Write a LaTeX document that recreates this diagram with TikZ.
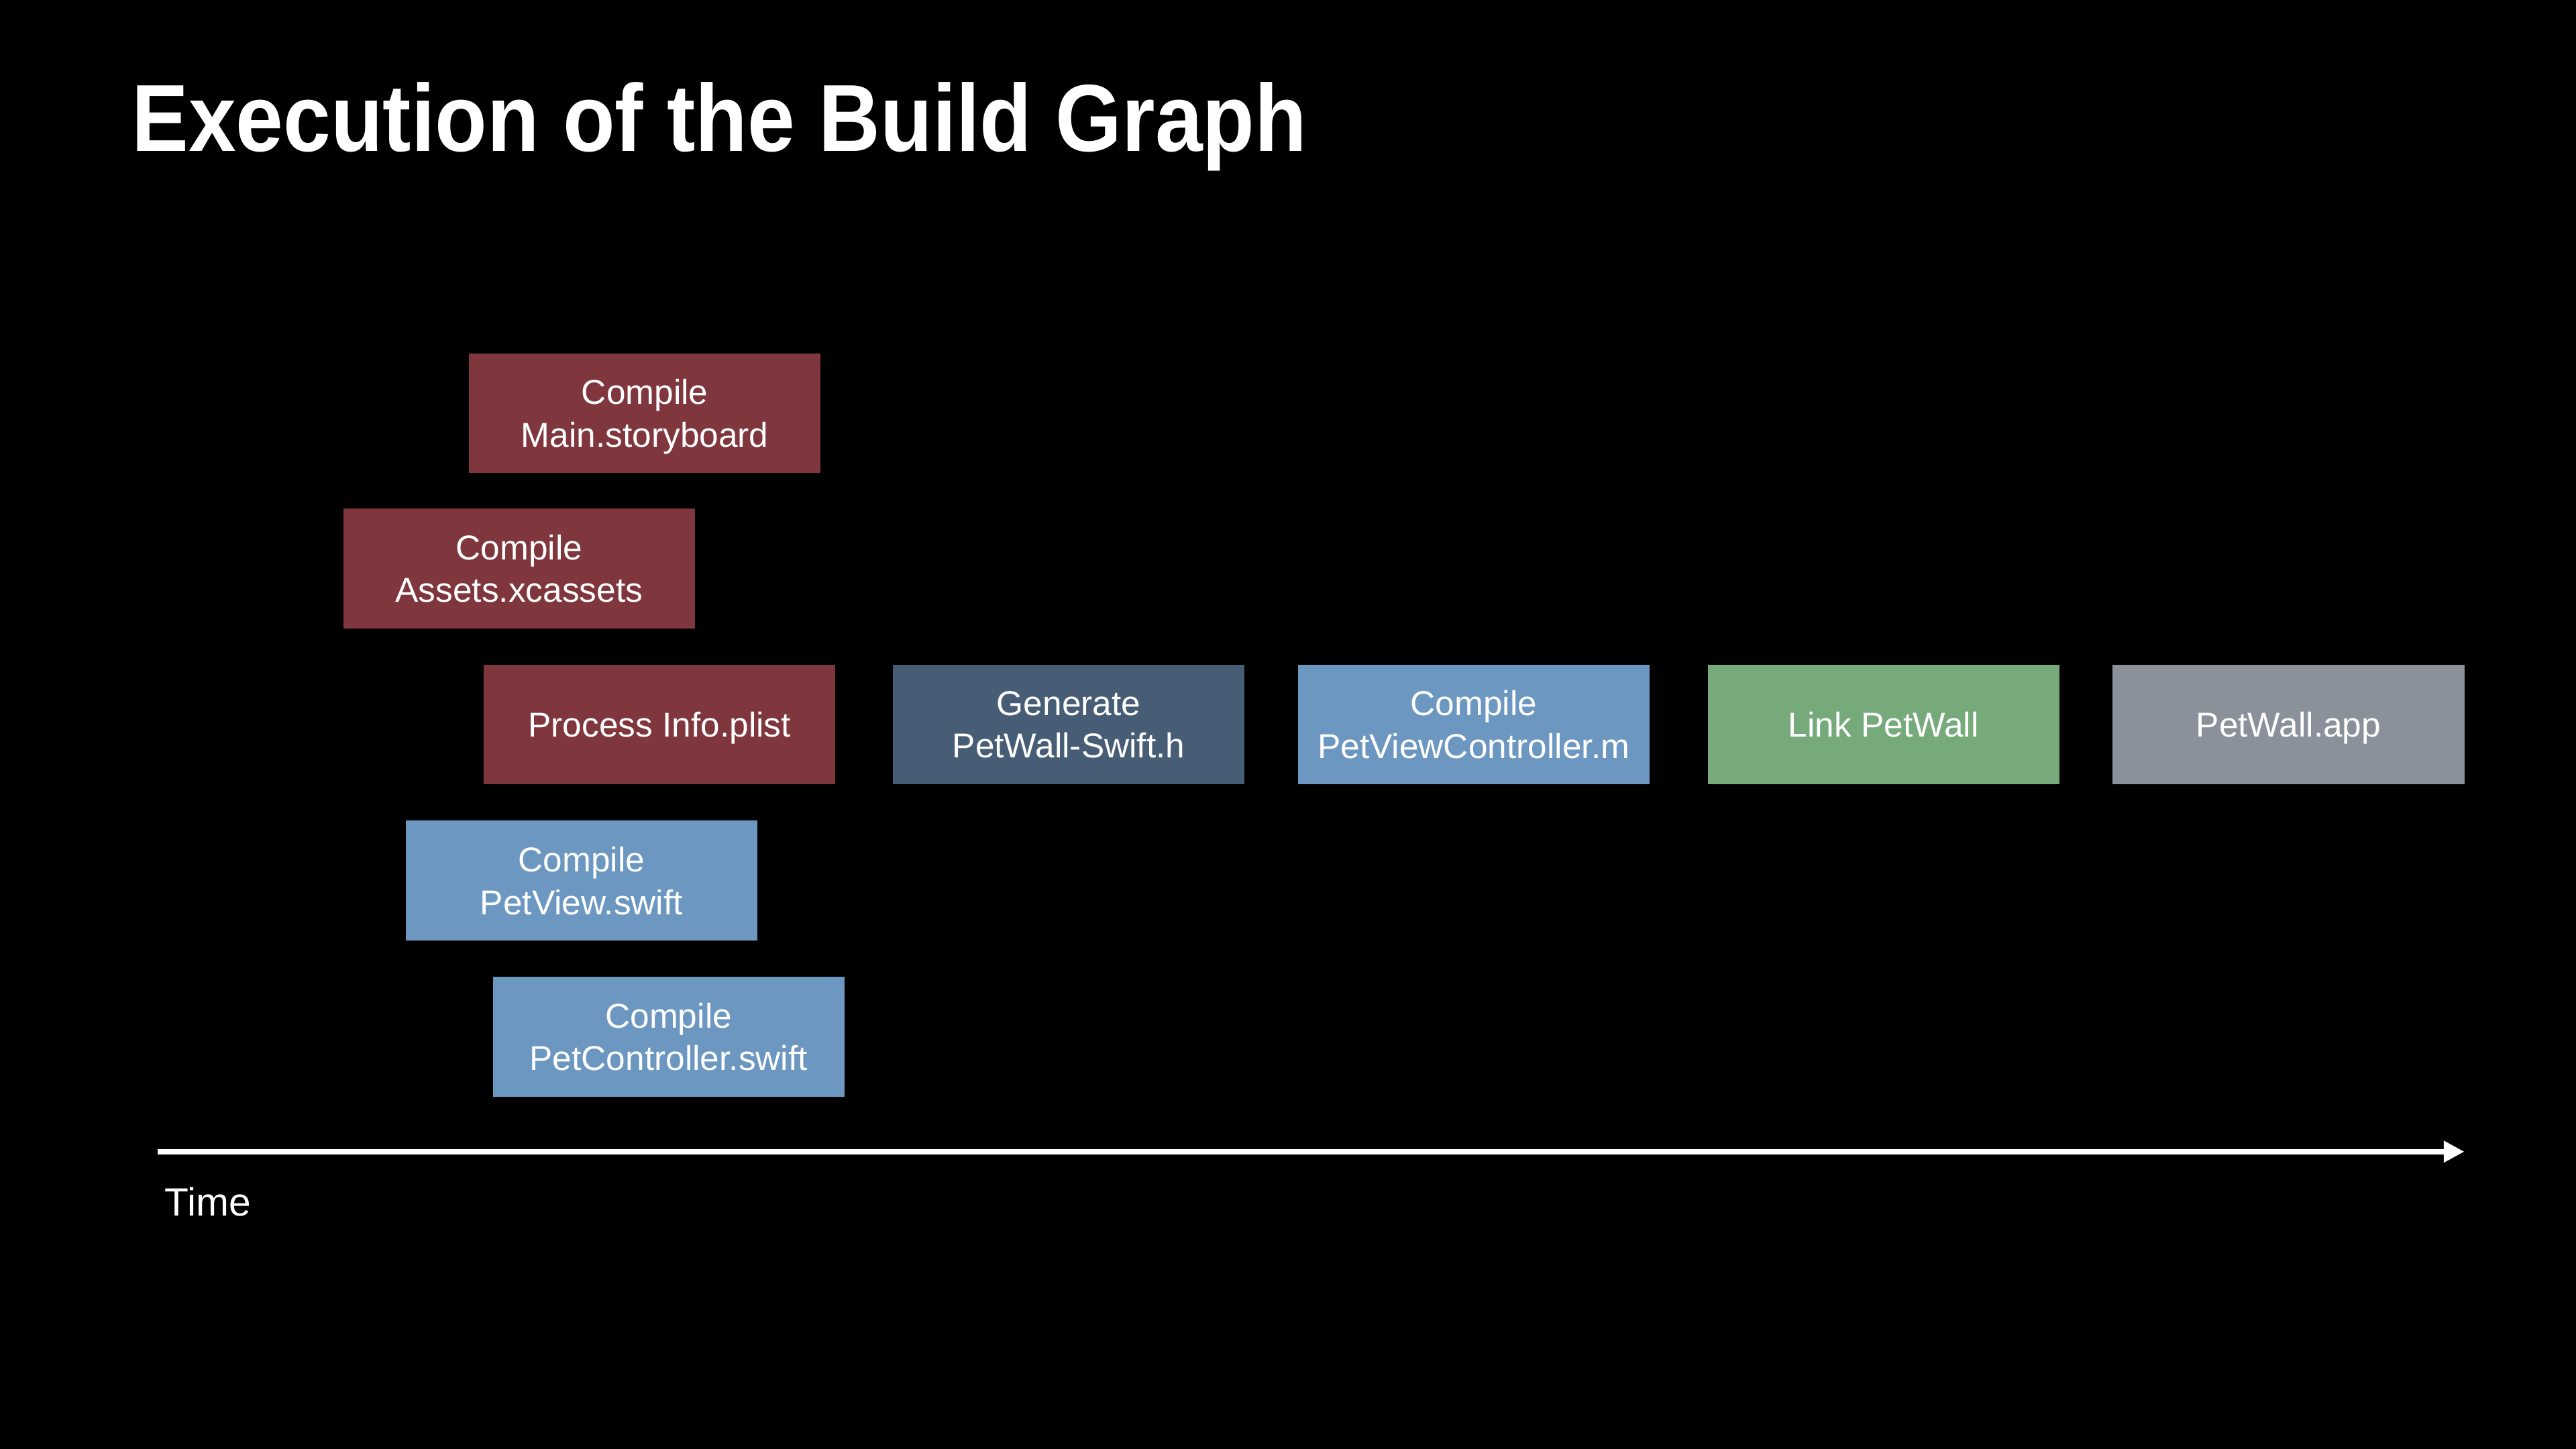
\documentclass[tikz,border=0pt]{standalone}
\usepackage{fontspec}
\setmainfont{Liberation Sans}
\newfontfamily\titlefont[FakeStretch=0.895]{Liberation Sans}
\usetikzlibrary{arrows.meta}

\definecolor{taskred}{RGB}{127,54,61}
\definecolor{taskslate}{RGB}{71,93,117}
\definecolor{taskblue}{RGB}{108,151,193}
\definecolor{taskgreen}{RGB}{118,170,122}
\definecolor{taskgray}{RGB}{138,145,155}

\begin{document}
\begin{tikzpicture} [x=1pt,y=-1pt,
  task/.style={rectangle, minimum width=214pt, minimum height=73pt, inner sep=0pt, text depth=0pt, text=white, align=center, font=\fontsize{21}{26}\selectfont},
  redtask/.style={task, fill=taskred},
  slatetask/.style={task, fill=taskslate},
  bluetask/.style={task, fill=taskblue},
  greentask/.style={task, fill=taskgreen},
  graytask/.style={task, fill=taskgray}]
  % background
  \fill[black] (0,0) rectangle (1568,882);

  \node[anchor=base west, text=white, inner sep=0pt, font=\titlefont\bfseries\fontsize{58}{70}\selectfont] (title) at (80,92) {Execution of the Build Graph};

  \node[redtask] (storyboard) at (392.5,251.5) {Compile\\Main.storyboard};
  \node[redtask] (assets) at (316,346) {Compile\\Assets.xcassets};
  \node[redtask] (plist) at (401.5,441) {Process Info.plist};
  \node[bluetask] (petview) at (354,536) {Compile\\PetView.swift};
  \node[bluetask] (petcontroller) at (407,631) {Compile\\PetController.swift};

  \node[slatetask] (header) at (650.5,441) {Generate\\PetWall-Swift.h};
  \node[bluetask] (viewcontroller) at (897,441) {Compile\\PetViewController.m};
  \node[greentask] (link) at (1146.5,441) {Link PetWall};
  \node[graytask] (app) at (1393,441) {PetWall.app};

  \coordinate (tstart) at (96,701);
  \coordinate (tend) at (1500,701);
  \draw[white, line width=3.4pt, -{Triangle[length=12.5pt,width=12.5pt]}] (tstart) -- (tend);
  \node[anchor=base west, text=white, inner sep=0pt, font=\fontsize{24}{28}\selectfont] (time) at (100,740) {Time};

\end{tikzpicture}
\end{document}
